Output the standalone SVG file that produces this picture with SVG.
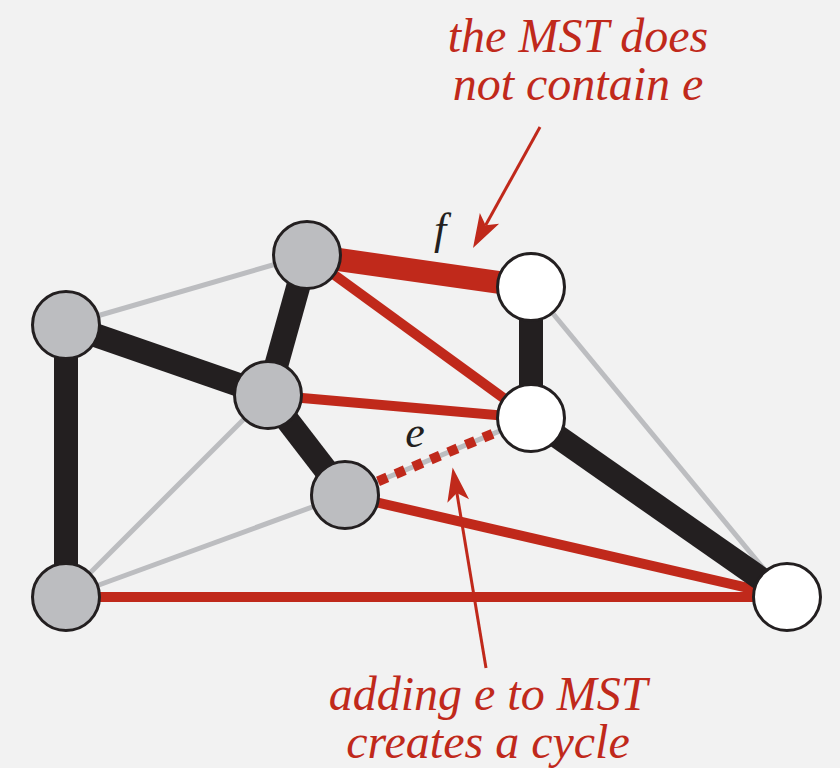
<svg xmlns="http://www.w3.org/2000/svg" width="840" height="768" viewBox="0 0 840 768">
<defs>
<style>
.bg{fill:#f2f2f2}
.gray{stroke:#bcbdc0;stroke-width:5;fill:none}
.red{stroke:#c0291b;stroke-width:10;fill:none}
.redf{stroke:#c0291b;stroke-width:23;fill:none}
.blk{stroke:#231f20;stroke-width:24;fill:none}
.dash{stroke:#c0291b;stroke-width:10;stroke-dasharray:10 9;fill:none}
.node circle{stroke:#231f20;stroke-width:3}
.g circle{fill:#bcbdc0}
.w circle{fill:#ffffff}
.lbl{font-family:'Liberation Serif','Times New Roman',serif;font-style:italic;font-size:48px;fill:#c0291b;text-anchor:middle}
.elbl{font-family:'Liberation Serif','Times New Roman',serif;font-style:italic;font-size:44px;fill:#231f20;text-anchor:middle}
.ptr{stroke:#c0291b;stroke-width:3;fill:none}
</style>
<marker id="ah" markerUnits="userSpaceOnUse" viewBox="-10 -12 40 24" refX="0" refY="0" markerWidth="40" markerHeight="24" orient="auto" overflow="visible">
<path d="M26,0 L-8,-11 L0,0 L-8,11 Z" fill="#c0291b"/>
</marker>
</defs>
<rect class="bg" x="0" y="0" width="840" height="768"/>
<g id="connectors">
<line class="gray" x1="307" y1="255" x2="66" y2="325"/>
<line class="gray" x1="268" y1="395" x2="66" y2="597"/>
<line class="gray" x1="345" y1="495" x2="66" y2="597"/>
<line class="gray" x1="531" y1="287" x2="787" y2="597"/>
<line class="gray" x1="345" y1="495" x2="531" y2="418"/>
<line class="dash" x1="378" y1="481.3" x2="531" y2="418"/>
<line class="red" x1="307" y1="255" x2="531" y2="418"/>
<line class="red" x1="268" y1="395" x2="531" y2="418"/>
<line class="red" x1="345" y1="495" x2="787" y2="597"/>
<line class="red" x1="66" y1="597" x2="787" y2="597"/>
<line class="redf" x1="307" y1="255" x2="531" y2="287"/>
<line class="blk" x1="66" y1="325" x2="268" y2="395"/>
<line class="blk" x1="66" y1="325" x2="66" y2="597"/>
<line class="blk" x1="307" y1="255" x2="268" y2="395"/>
<line class="blk" x1="268" y1="395" x2="345" y2="495"/>
<line class="blk" x1="531" y1="287" x2="531" y2="418"/>
<line class="blk" x1="531" y1="418" x2="787" y2="597"/>
</g>
<g id="nA" class="node g"><circle cx="307" cy="255" r="33.5"/></g>
<g id="nB" class="node g"><circle cx="66" cy="325" r="33.5"/></g>
<g id="nC" class="node g"><circle cx="268" cy="395" r="33.5"/></g>
<g id="nD" class="node g"><circle cx="345" cy="495" r="33.5"/></g>
<g id="nE" class="node g"><circle cx="66" cy="597" r="33.5"/></g>
<g id="nF" class="node w"><circle cx="531" cy="287" r="33.5"/></g>
<g id="nG" class="node w"><circle cx="531" cy="418" r="33.5"/></g>
<g id="nH" class="node w"><circle cx="787" cy="597" r="33.5"/></g>
<g id="labels">
<text class="elbl" x="440" y="244">f</text>
<text class="elbl" x="415" y="447">e</text>
</g>
<g id="annotations">
<text class="lbl" x="578" y="52">the MST does</text>
<text class="lbl" x="578" y="100">not contain e</text>
<path class="ptr" d="M540,127 L485.6,225.3" marker-end="url(#ah)"/>
<text class="lbl" x="488" y="710">adding e to MST</text>
<text class="lbl" x="488" y="758">creates a cycle</text>
<path class="ptr" d="M486,668 L456.9,493.1" marker-end="url(#ah)"/>
</g>
</svg>
